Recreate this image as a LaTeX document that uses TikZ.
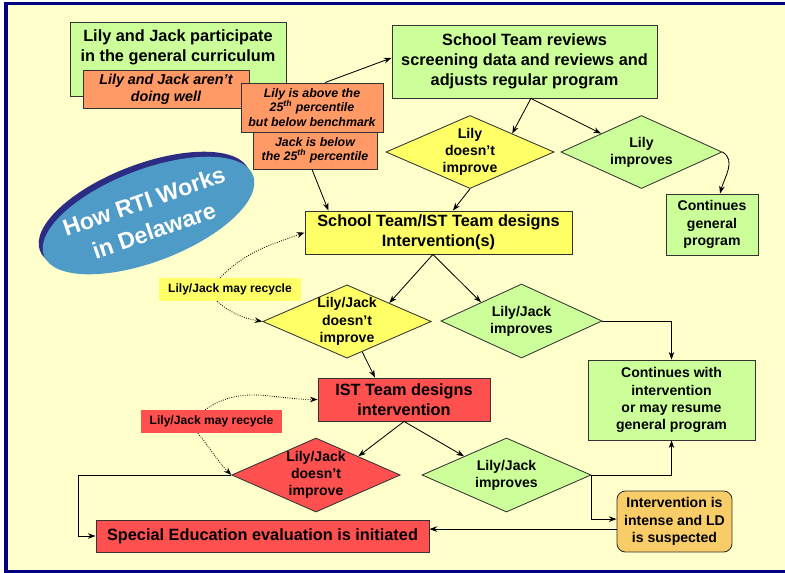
\documentclass[tikz,border=0pt]{standalone}
\usepackage{fontspec}
\setmainfont{Liberation Sans}
\usetikzlibrary{shapes.geometric,arrows.meta,calc}
\definecolor{rtibg}{HTML}{FFFFCC}
\definecolor{rtinavy}{HTML}{000080}
\definecolor{rtigreen}{HTML}{CCFF99}
\definecolor{rtiorange}{HTML}{FF9966}
\definecolor{rtiyellow}{HTML}{FFFF66}
\definecolor{rtired}{HTML}{FF5050}
\definecolor{rtigold}{HTML}{F8CC66}
\definecolor{rtiblue}{HTML}{4F9BC7}
\definecolor{rtirim}{HTML}{2C2C85}

\begin{document}
\begin{tikzpicture}[x=0.025cm,y=-0.025cm,
  box/.style={draw=black!80,line width=0.6pt,align=center,inner sep=0pt,font=\bfseries\fontsize{10}{12.2}\selectfont},
  bigbox/.style={box,font=\bfseries\fontsize{11.6}{14.2}\selectfont},
  notebox/.style={box,fill=rtiorange,font=\bfseries\itshape\fontsize{8.8}{10.3}\selectfont},
  choice/.style={box,diamond,aspect=2.3},
  recycle/.style={align=center,inner sep=0pt,font=\bfseries\fontsize{8.6}{10}\selectfont,minimum width=3.53cm,minimum height=0.575cm},
  rtitext/.style={rotate=19,align=center,font=\bfseries\fontsize{16.5}{22}\selectfont},
  arr/.style={-{Stealth[length=5.5pt,width=4pt,inset=1.8pt]},line width=0.6pt},
  maybe/.style={arr,densely dotted}]

  \useasboundingbox (0,0) rectangle (785,573);
  \fill[white] (0,0) rectangle (785,573);
  \begin{scope}
    \clip (0,0) rectangle (785,573);
    \draw[line width=2.2pt,draw=rtinavy,fill=rtibg] (6,3.5) rectangle (800,571.5);
  \end{scope}

  \fill[rtirim,rotate around={21:(144.5,210.5)}] (144.5,210.5) ellipse [x radius=112,y radius=46];
  \fill[rtiblue,rotate around={21:(148.5,215.5)}] (148.5,215.5) ellipse [x radius=112,y radius=46];
  \node[rtitext,text=white] (rti) at (149,216) {How RTI Works\\in Delaware};

  \node[bigbox,fill=rtigreen,minimum width=5.4cm,minimum height=1.85cm,
    label={[bigbox,draw=none,anchor=north,inner sep=5.5pt]north:{Lily and Jack participate\\in the general curriculum}}] (curr) at (178,59) {};
  \node[notebox,minimum width=4.15cm,minimum height=0.95cm,font=\bfseries\itshape\fontsize{10.2}{12.1}\selectfont] (notwell) at (166,89) {Lily and Jack aren't\\doing well};
  \node[notebox,minimum width=3.55cm,minimum height=1.225cm] (lily25) at (312,107.5) {Lily is above the\\25\textsuperscript{th} percentile\\but below benchmark};
  \node[notebox,minimum width=3.1cm,minimum height=0.925cm] (jack25) at (315,150.5) {Jack is below\\the 25\textsuperscript{th} percentile};
  \node[bigbox,fill=rtigreen,minimum width=6.625cm,minimum height=1.825cm] (review) at (524.5,61.5) {School Team reviews\\screening data and reviews and\\adjusts regular program};
  \node[choice,fill=rtiyellow,minimum width=4.2cm,minimum height=1.825cm] (lilyno) at (470,152) {Lily\\doesn't\\improve};
  \node[choice,fill=rtigreen,minimum width=4.025cm,minimum height=1.825cm] (lilyyes) at (641.5,152) {Lily\\improves};
  \node[box,fill=rtigreen,minimum width=2.3cm,minimum height=1.525cm] (contgen) at (712,224.5) {Continues\\general\\program};
  \node[bigbox,fill=rtiyellow,minimum width=6.675cm,minimum height=1.075cm] (design) at (438.5,232.5) {School Team/IST Team designs\\Intervention(s)};
  \node[choice,fill=rtiyellow,minimum width=4.2cm,minimum height=1.825cm] (ljno) at (347,321.5) {Lily/Jack\\doesn't\\improve};
  \node[choice,fill=rtigreen,minimum width=4.025cm,minimum height=1.85cm] (ljyes) at (521.5,321) {Lily/Jack\\improves};
  \node[box,fill=rtigreen,minimum width=4.175cm,minimum height=2cm] (contint) at (671.5,400) {Continues with\\intervention\\or may resume\\general program};
  \node[bigbox,fill=rtired,minimum width=4.3cm,minimum height=1.075cm] (ist) at (404,399.5) {IST Team designs\\intervention};
  \node[recycle,fill=rtiyellow] (recycA) at (230,289.5) {Lily/Jack may recycle};
  \node[recycle,fill=rtired] (recycB) at (211.5,421.5) {Lily/Jack may recycle};
  \node[choice,fill=rtired,minimum width=4.2cm,minimum height=1.85cm] (ljnoB) at (316,475) {Lily/Jack\\doesn't\\improve};
  \node[choice,fill=rtigreen,minimum width=4.225cm,minimum height=1.85cm] (ljyesB) at (506.5,475) {Lily/Jack\\improves};
  \node[box,fill=rtigold,rounded corners=6pt,minimum width=2.875cm,minimum height=1.525cm] (suspect) at (674.5,521.5) {Intervention is\\intense and LD\\is suspected};
  \node[bigbox,fill=rtired,minimum width=8.325cm,minimum height=0.8cm] (sped) at (262.5,536) {Special Education evaluation is initiated};

  \draw[arr] ([xshift=0.325cm]lily25.north) -- ([yshift=0.09cm]review.west);
  \draw[arr] ([xshift=-0.075cm]jack25.south) -- ([xshift=-2.75cm]design.north);
  \draw[arr] ([xshift=0.16cm]review.south) -- (lilyno.north east);
  \draw[arr] ([xshift=0.16cm]review.south) -- (lilyyes.north west);
  \draw[arr] (lilyyes.east) to[out=-30,in=75] ([xshift=0.2cm]contgen.north);
  \draw[arr] (lilyno.south) -- ([xshift=0.36cm]design.north);
  \draw[arr] ([xshift=-0.14cm]design.south) -- (ljno.north east);
  \draw[arr] ([xshift=-0.14cm]design.south) -- (ljyes.north west);
  \draw[arr] (ljyes.east) -| (contint.north);
  \draw[arr] ($(ljno.south)!0.18!(ljno.east)$) -- ([xshift=-0.725cm]ist.north);
  \draw[arr] (ist.south) -- (ljnoB.north east);
  \draw[arr] (ist.south) -- (ljyesB.north west);
  \draw[arr] (ljyesB.east) -| (contint.south);
  \draw[arr] (ljyesB.east) |- ([yshift=0.06cm]suspect.west);
  \coordinate (ldout) at ([yshift=-0.19cm]suspect.west);
  \draw[arr] (ldout) -- (ldout -| sped.east);
  \draw[arr] (ljnoB.west) -- ++(-153,0) |- (sped.west);
  \draw[maybe] ([xshift=-0.25cm]recycA.north) to[out=45,in=200] (design.west);
  \draw[maybe] ([xshift=-0.325cm]recycA.south) to[out=-40,in=170] (ljno.west);
  \draw[maybe] ([xshift=-0.16cm]recycB.north) to[out=35,in=180] (ist.west);
  \draw[maybe] ([xshift=-0.34cm]recycB.south) to[out=-50,in=135] (ljnoB.west);
\end{tikzpicture}
\end{document}
